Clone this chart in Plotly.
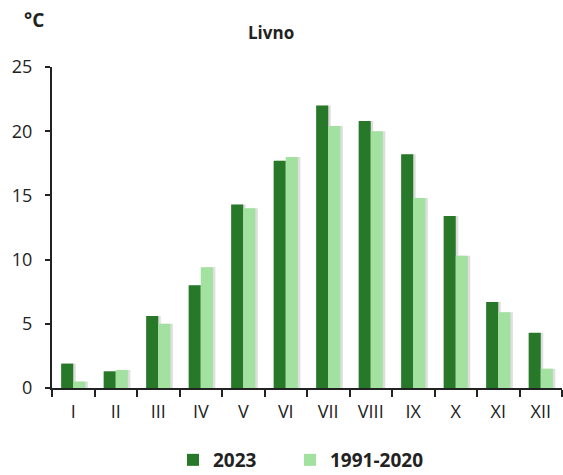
import plotly.graph_objects as go

meseci = ["I", "II", "III", "IV", "V", "VI", "VII", "VIII", "IX", "X", "XI", "XII"]
t_2023 = [1.9, 1.3, 5.6, 8.0, 14.3, 17.7, 22.0, 20.8, 18.2, 13.4, 6.7, 4.3]
t_norma = [0.5, 1.4, 5.0, 9.4, 14.0, 18.0, 20.4, 20.0, 14.8, 10.3, 5.9, 1.5]

TAMNA = "#28782a"
SVIJETLA = "#a3e1a0"
SJENA = "rgba(0,0,0,0.13)"
FONT = "Open Sans"

W, H = 563, 475
L, R, T, B = 52, 1, 67, 87
PW, PH = W - L - R, H - T - B

BARGAP = 0.43
SIRINA = (1 - BARGAP) / 2   # sirina jednog stupca (kategorijske jedinice)
POMAK = 2.5 / (PW / 12)     # ~2.5 px sjena udesno


def px_x(px):
    # piksel -> paper koordinata
    return (px - L) / PW


def px_y(py):
    return (H - B - py) / PH


fig = go.Figure()

# sjene stupaca (crtaju se prve, ispod)
for vrijednosti, pocetak in [(t_2023, -SIRINA), (t_norma, 0)]:
    fig.add_trace(go.Bar(
        x=meseci, y=vrijednosti, offset=pocetak + POMAK, width=SIRINA,
        marker=dict(color=SJENA, line=dict(width=0)),
        showlegend=False, hoverinfo="skip",
    ))

# 2023
fig.add_trace(go.Bar(
    x=meseci, y=t_2023, name="2023", legend="legend",
    marker=dict(color=TAMNA, line=dict(width=0)),
))

# prosjek 1991-2020
fig.add_trace(go.Bar(
    x=meseci, y=t_norma, name="1991-2020", legend="legend2",
    marker=dict(color=SVIJETLA, line=dict(width=0)),
))

legenda = dict(
    orientation="h", xref="container", yref="container",
    xanchor="left", y=(H - 460) / H, yanchor="middle",
    font=dict(size=19, color="#222222", family=FONT, weight="bold"),
    itemsizing="constant", itemwidth=30, bgcolor="rgba(0,0,0,0)",
)

fig.update_layout(
    width=W, height=H,
    margin=dict(l=L, r=R, t=T, b=B, autoexpand=False),
    paper_bgcolor="white", plot_bgcolor="white",
    barmode="group", bargap=BARGAP, bargroupgap=0,
    font=dict(family=FONT, size=18, color="#222222"),
    showlegend=True,
    legend=dict(legenda, x=173 / W),
    legend2=dict(legenda, x=290 / W),
    xaxis=dict(
        type="category", showline=True, linecolor="#222222", linewidth=2,
        ticks="outside", tickson="boundaries", ticklen=7, tickwidth=2,
        tickcolor="#222222", showgrid=False, zeroline=False,
        tickfont=dict(size=18), automargin=False, ticklabelstandoff=6,
    ),
    yaxis=dict(
        range=[0, 25], dtick=5, showline=True, linecolor="#222222",
        linewidth=2, ticks="outside", ticklen=5, tickwidth=2,
        tickcolor="#222222", showgrid=False, zeroline=False,
        tickfont=dict(size=18), automargin=False, ticklabelstandoff=9,
    ),
    annotations=[
        dict(text="<b>Livno</b>", x=px_x(271), y=px_y(33),
             xref="paper", yref="paper", yanchor="middle",
             showarrow=False, font=dict(size=17, family=FONT)),
        dict(text="<b>°C</b>", x=px_x(46), y=px_y(20),
             xref="paper", yref="paper", xanchor="right",
             yanchor="middle", showarrow=False,
             font=dict(size=19, family=FONT)),
    ],
)

fig.write_html("out.html", config={"displayModeBar": False},
               post_script="document.body.style.margin='0';")
